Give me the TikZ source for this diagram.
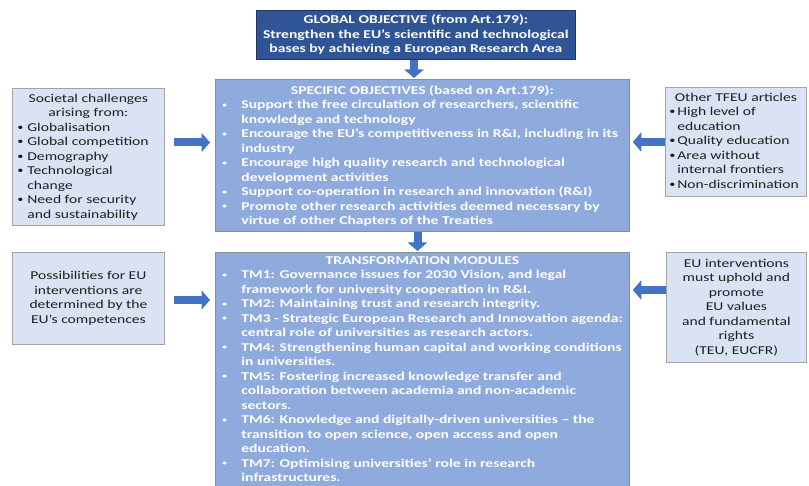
\documentclass[tikz,border=0pt]{standalone}
\usepackage{fontspec}
\setmainfont{Carlito}[FakeStretch=1.3]
\usetikzlibrary{arrows.meta}

\definecolor{darkblue}{HTML}{2F5597}
\definecolor{midblue}{HTML}{8FAADC}
\definecolor{paleblue}{HTML}{DAE3F3}
\definecolor{arrowblue}{HTML}{4472C4}
\definecolor{edgegray}{HTML}{8C8C8C}
\definecolor{inkgray}{HTML}{1F1F1F}

% bullet lists with a hanging indent
\newlength\bulletoff
\newlength\bulletind
\newcommand\bulletmark{\textbullet}
\newcommand\smallbullet{\raisebox{1.6pt}{\fontsize{7}{7}\selectfont\textbullet}}
\newcommand\midbullet{\raisebox{0.9pt}{\fontsize{9.5}{9.5}\selectfont\textbullet}}
\newcommand\bul[1]{\par\noindent\hangindent=\bulletind\hangafter=1%
  \makebox[\bulletind][l]{\hspace{\bulletoff}\bulletmark}#1}
\newcommand\headline[1]{{\centering #1\par}}

\tikzset{
  box/.style={draw=edgegray, line width=0.8pt, inner xsep=4pt, inner ysep=4pt,
    anchor=north west, font=\fontsize{12}{14.5}\selectfont,
    execute at begin node={\hyphenpenalty=10000\exhyphenpenalty=10000}},
  mainbox/.style={box, fill=midblue, text=white, font=\fontsize{12}{14.5}\selectfont\bfseries},
  sidebox/.style={box, fill=paleblue, draw=edgegray!80, text=inkgray},
  topbox/.style={box, fill=darkblue, draw=darkblue!60!black, text=white,
    font=\fontsize{12}{14.5}\selectfont\bfseries},
  barrow/.style={draw=arrowblue, line width=8pt, -{Triangle[length=8.5pt,width=19pt]}}
}

\begin{document}
\begin{tikzpicture}[x=1pt, y=-1pt]
\useasboundingbox (0,0) rectangle (809,486);
\fill[white] (0,0) rectangle (809,486);

% central column
\node[topbox, minimum width=319pt, minimum height=49pt] (glob) at (256,10)
  {\parbox{311pt}{\centering GLOBAL OBJECTIVE (from Art.179):\\
   Strengthen the EU’s scientific and technological\\
   bases by achieving a European Research Area}};

\node[mainbox, minimum width=414pt, minimum height=152pt] (spec) at (215,79)
  {\parbox{406pt}{\setlength\bulletoff{3pt}\setlength\bulletind{22pt}%
   \let\bulletmark\smallbullet
   \vspace{1pt}
   \headline{SPECIFIC OBJECTIVES (based on Art.179):}
   \bul{Support the free circulation of researchers, scientific\newline knowledge and technology}
   \bul{Encourage the EU’s competitiveness in R\&I, including in its\newline industry}
   \bul{Encourage high quality research and technological\newline development activities}
   \bul{Support co-operation in research and innovation (R\&I)}
   \bul{Promote other research activities deemed necessary by\newline virtue of other Chapters of the Treaties}}};

\node[mainbox, minimum width=414pt] (tm) at (215,252)
  {\parbox[c][238pt][t]{406pt}{\setlength\bulletoff{3pt}\setlength\bulletind{22pt}%
   \let\bulletmark\smallbullet
   \headline{TRANSFORMATION MODULES}
   \bul{TM1: Governance issues for 2030 Vision, and legal\newline framework for university cooperation in R\&I.}
   \bul{TM2: Maintaining trust and research integrity.}
   \bul{TM3 - Strategic European Research and Innovation agenda:\newline central role of universities as research actors.}
   \bul{TM4: Strengthening human capital and working conditions\newline in universities.}
   \bul{TM5: Fostering increased knowledge transfer and\newline collaboration between academia and non-academic\newline sectors.}
   \bul{TM6: Knowledge and digitally-driven universities – the\newline transition to open science, open access and open\newline education.}
   \bul{TM7: Optimising universities’ role in research\newline infrastructures.}}};

% side boxes
\node[sidebox, minimum width=152pt, minimum height=137pt] (soc) at (12,88)
  {\parbox{144pt}{\setlength\bulletoff{1pt}\setlength\bulletind{11pt}%
   \let\bulletmark\midbullet
   \headline{Societal challenges\\ arising from:}
   \bul{Globalisation}
   \bul{Global competition}
   \bul{Demography}
   \bul{Technological\newline change}
   \bul{Need for security\newline and sustainability}}};

\node[sidebox, minimum width=141pt, minimum height=109pt] (tfeu) at (665,87)
  {\parbox{133pt}{\setlength\bulletoff{0pt}\setlength\bulletind{8pt}%
   \let\bulletmark\midbullet
   \vspace{-3pt}
   \headline{Other TFEU articles}
   \bul{High level of\newline education}
   \bul{Quality education}
   \bul{Area without\newline internal frontiers}
   \bul{Non-discrimination}}};

\node[sidebox, minimum width=152pt, minimum height=92pt] (comp) at (12,252)
  {\parbox{144pt}{\centering Possibilities for EU\\ interventions are\\
   determined by the\\ EU’s competences}};

\node[sidebox, minimum width=140pt, minimum height=110pt] (vals) at (666,252)
  {\parbox{132pt}{\centering EU interventions\\ must uphold and\\ promote\\
   EU values\\ and fundamental\\ rights\\ (TEU, EUCFR)}};

% connectors
\coordinate (ax1) at (414,0);
\coordinate (ax2) at (417.5,0);
\coordinate (ay1) at (0,142.5);
\coordinate (ay2) at (0,142);
\coordinate (ay3) at (0,300);
\coordinate (ay4) at (0,290);

\draw[barrow, shorten >=1pt] (glob.south -| ax1) -- (spec.north -| ax1);
\draw[barrow, shorten >=1pt] (spec.south -| ax2) -- (tm.north -| ax2);
\draw[barrow, shorten <=9pt, shorten >=5pt] (soc.east |- ay1) -- (spec.west |- ay1);
\draw[barrow, shorten >=3pt] (tfeu.west |- ay2) -- (spec.east |- ay2);
\draw[barrow, shorten <=9pt, shorten >=5pt] (comp.east |- ay3) -- (tm.west |- ay3);
\draw[barrow, shorten >=3pt] (vals.west |- ay4) -- (tm.east |- ay4);
\end{tikzpicture}
\end{document}
